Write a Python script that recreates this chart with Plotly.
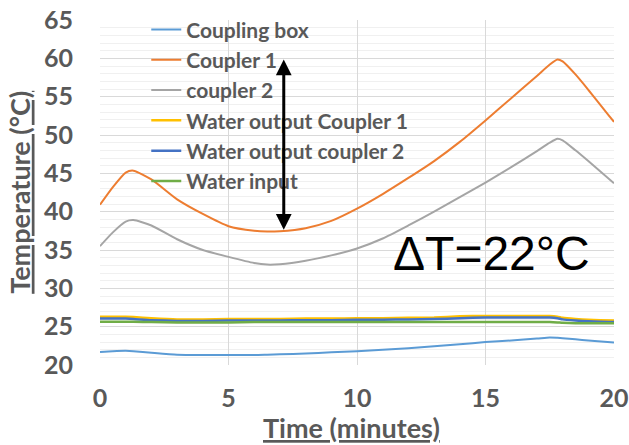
import plotly.graph_objects as go

# Time axis (minutes) shared by every series
time_min = [0, 0.5, 1, 1.3, 2, 3, 4, 5, 6, 6.5, 7, 8, 9, 10, 11, 12, 13, 14,
            15, 16, 17, 17.5, 17.8, 18, 18.5, 19, 20]

coupling_box = [21.7, 21.8, 21.85, 21.8, 21.6, 21.35, 21.3, 21.3, 21.3, 21.35, 21.4,
                21.5, 21.65, 21.8, 22.0, 22.2, 22.45, 22.7, 23.0, 23.2, 23.45, 23.6,
                23.55, 23.5, 23.35, 23.2, 22.95]
coupler_1 = [40.9, 43.2, 45.1, 45.35, 44.2, 41.6, 39.7, 38.1, 37.5, 37.4, 37.45,
             37.85, 38.8, 40.4, 42.3, 44.4, 46.6, 49.1, 51.9, 54.8, 57.7, 59.2,
             59.85, 59.6, 57.9, 55.9, 51.7]
coupler_2 = [35.5, 37.3, 38.7, 38.9, 38.2, 36.4, 35.0, 34.1, 33.3, 33.1, 33.15,
             33.6, 34.3, 35.2, 36.5, 38.2, 40.0, 41.9, 43.8, 45.8, 47.9, 49.0,
             49.5, 49.3, 48.0, 46.6, 43.7]
water_out_c1 = [26.3, 26.3, 26.3, 26.25, 26.1, 25.95, 25.95, 26.0, 26.0, 26.0, 26.0,
                26.05, 26.05, 26.1, 26.1, 26.15, 26.2, 26.35, 26.4, 26.4, 26.4, 26.4,
                26.3, 26.15, 26.0, 25.9, 25.8]
water_out_c2 = [26.05, 26.05, 26.05, 26.0, 25.85, 25.75, 25.75, 25.8, 25.8, 25.8, 25.8,
                25.85, 25.85, 25.9, 25.9, 25.95, 26.0, 26.1, 26.2, 26.2, 26.2, 26.2,
                26.1, 25.95, 25.8, 25.7, 25.6]
water_input = [25.65, 25.65, 25.65, 25.65, 25.6, 25.55, 25.55, 25.55, 25.6, 25.6, 25.6,
               25.6, 25.6, 25.6, 25.6, 25.6, 25.6, 25.6, 25.6, 25.6, 25.6, 25.6,
               25.55, 25.5, 25.45, 25.45, 25.45]

series_names = ["Coupling box", "Coupler 1", "coupler 2",
                "Water output Coupler 1", "Water output coupler 2", "Water input"]
series_values = [coupling_box, coupler_1, coupler_2,
                 water_out_c1, water_out_c2, water_input]
series_colors = ["#5B9BD5", "#ED7D31", "#A5A5A5", "#FFC000", "#4472C4", "#70AD47"]
series_widths = [2, 2, 2, 2.5, 2.5, 2.5]

# Temperature rise marked by the double arrow on Coupler 1
delta_t_low = 37.45
delta_t_high = 59.85
delta_t_time = 7.15
delta_t_label = "ΔT=22°C"

x_ticks = [0, 5, 10, 15, 20]
y_ticks = [20, 25, 30, 35, 40, 45, 50, 55, 60, 65]

GRAY_TEXT = "#595959"
FONT = "Lato"

fig = go.Figure()
for i, (name, vals, col, w) in enumerate(zip(series_names, series_values,
                                             series_colors, series_widths)):
    fig.add_trace(go.Scatter(
        x=time_min, y=vals, name=name, mode="lines",
        line=dict(color=col, width=w, shape="spline", smoothing=0.6),
        legendgroup=f"g{i}",
    ))

fig.add_annotation(
    x=delta_t_time, y=delta_t_high, ax=delta_t_time, ay=delta_t_low,
    xref="x", yref="y", axref="x", ayref="y", text="",
    showarrow=True, arrowhead=2, arrowsize=1.05, arrowwidth=3,
    arrowside="end+start", arrowcolor="black",
)
fig.add_annotation(
    x=15.25, y=34.6, xref="x", yref="y", text=delta_t_label, showarrow=False,
    font=dict(family="Liberation Sans, Arial", size=48, color="black"),
    xanchor="center", yanchor="middle",
)

# Axis titles (bold, underlined)
title_font = dict(family=FONT, size=27, color=GRAY_TEXT, weight="bold")
fig.add_annotation(
    x=0.49, y=-0.181, xref="paper", yref="paper", text="<u>Time (minutes)</u>",
    showarrow=False, xanchor="center", yanchor="middle", font=title_font,
)
fig.add_annotation(
    x=-0.157, y=0.5, xref="paper", yref="paper", text="<u>Temperature (°C)</u>",
    showarrow=False, xanchor="center", yanchor="middle", textangle=-90,
    font=title_font,
)

fig.update_layout(
    width=629, height=445,
    margin=dict(l=100, r=15, t=20, b=80, autoexpand=False),
    paper_bgcolor="white", plot_bgcolor="white",
    font=dict(family=FONT, color=GRAY_TEXT),
    legend=dict(
        x=0.09, y=1.031, xanchor="left", yanchor="top",
        font=dict(family=FONT, size=21, color=GRAY_TEXT, weight="bold"),
        bgcolor="rgba(0,0,0,0)", tracegroupgap=0, itemwidth=30,
    ),
    xaxis=dict(
        range=[0, 20], tickvals=x_ticks, ticktext=[str(v) for v in x_ticks],
        showgrid=True, gridcolor="#D9D9D9", gridwidth=1, zeroline=False,
        showline=False, ticks="", ticklabelstandoff=16, automargin=False,
        tickfont=dict(family=FONT, size=25, color=GRAY_TEXT, weight="bold"),
    ),
    yaxis=dict(
        range=[20, 65], tickvals=y_ticks, ticktext=[str(v) for v in y_ticks],
        showgrid=True, gridcolor="#D9D9D9", gridwidth=1, zeroline=False,
        showline=False, ticks="", ticklabelstandoff=26, automargin=False,
        minor=dict(dtick=1, showgrid=True, gridcolor="#F0F0F0", gridwidth=1),
        tickfont=dict(family=FONT, size=25, color=GRAY_TEXT, weight="bold"),
    ),
)

fig.write_html("out.html")
